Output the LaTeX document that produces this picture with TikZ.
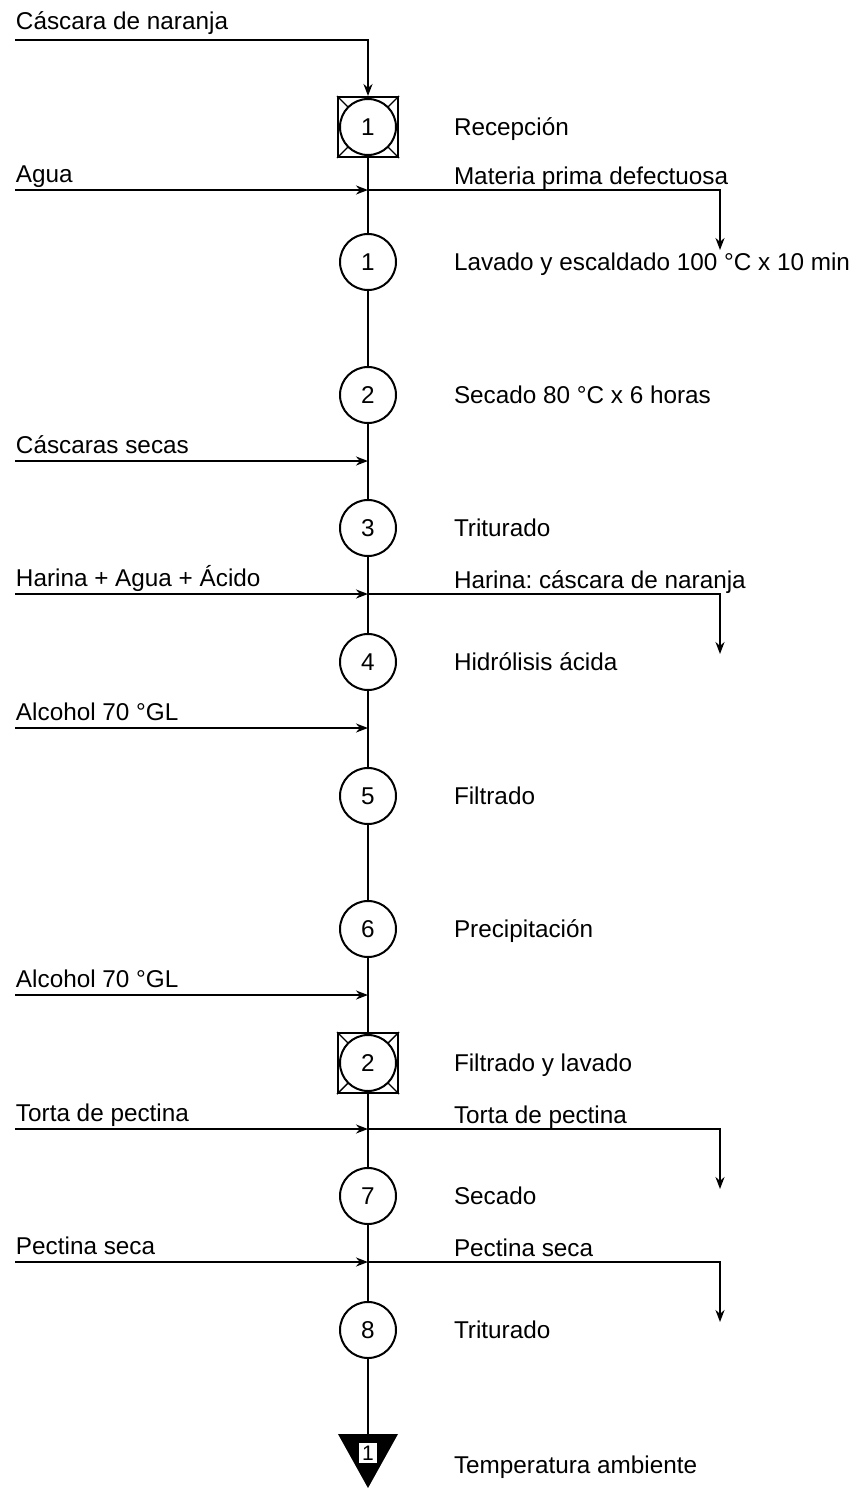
\documentclass[tikz,border=0pt]{standalone}
\usepackage{fontspec}
\setmainfont{Liberation Sans}
\usetikzlibrary{arrows.meta}
\frenchspacing
\begin{document}
\begin{tikzpicture}[x=1pt,y=-1pt, line width=2pt,
 every node/.style={font=\fontsize{24.3}{28}\selectfont, inner sep=0pt},
 proc/.style={circle, draw, fill=white, minimum size=56pt},
 insp/.style={draw, minimum size=60pt},
 lab/.style={anchor=base west},
 tip/.style={-{Stealth[length=12pt,width=9pt]}}]
\useasboundingbox (0,0) rectangle (860,1488);

% operations
\node[insp] (b1box) at (368,127) {};
\draw[line width=1.4pt] (b1box.north west) -- (b1box.south east) (b1box.north east) -- (b1box.south west);
\node[proc] (b1) at (368,127) {1};
\node[proc] (c1) at (368,262) {1};
\node[proc] (c2) at (368,395) {2};
\node[proc] (c3) at (368,528) {3};
\node[proc] (c4) at (368,662) {4};
\node[proc] (c5) at (368,796) {5};
\node[proc] (c6) at (368,929) {6};
\node[insp] (b2box) at (368,1063) {};
\draw[line width=1.4pt] (b2box.north west) -- (b2box.south east) (b2box.north east) -- (b2box.south west);
\node[proc] (b2) at (368,1063) {2};
\node[proc] (c7) at (368,1196) {7};
\node[proc] (c8) at (368,1330) {8};
\fill (338,1434) -- (398,1434) -- (368,1488) -- cycle;
\coordinate (ttop) at (368,1434);
\node[fill=white, inner xsep=3pt, inner ysep=3pt, font=\fontsize{21}{23}\selectfont] (t1) at (368,1453) {1};

% right labels
\node[lab] (l1) at (453,135) {Recepción};
\node[lab] (l2) at (453,270) {Lavado y escaldado 100 °C x 10 min};
\node[lab] (l3) at (453,403) {Secado 80 °C x 6 horas};
\node[lab] (l4) at (453,536) {Triturado};
\node[lab] (l5) at (453,670) {Hidrólisis ácida};
\node[lab] (l6) at (453,804) {Filtrado};
\node[lab] (l7) at (453,937) {Precipitación};
\node[lab] (l8) at (453,1071) {Filtrado y lavado};
\node[lab] (l9) at (453,1204) {Secado};
\node[lab] (l10) at (453,1338) {Triturado};
\node[lab] (l11) at (453,1473) {Temperatura ambiente};

% main line
\draw (b1box.south) -- (c1.north);
\draw (c1) -- (c2);
\draw (c2) -- (c3);
\draw (c3) -- (c4);
\draw (c4) -- (c5);
\draw (c5) -- (c6);
\draw (c6) -- (b2box.north);
\draw (b2box.south) -- (c7.north);
\draw (c7) -- (c8);
\draw (c8) -- (ttop);

% top input
\node[lab] (in0) at (15,30) {Cáscara de naranja};
\coordinate (s0) at (15,40);
\draw[tip] (s0) -| (b1box.north);

% input lines
\foreach \y/\t/\n in {190/Agua/a, 461/Cáscaras secas/b, 594/Harina + Agua + Ácido/c, 728/Alcohol 70 °GL/d, 995/Alcohol 70 °GL/e, 1129/Torta de pectina/f, 1262/Pectina seca/g}{
  \node[lab] (in\n) at (15,\y-8) {\t};
  \coordinate (s\n) at (15,\y);
  \coordinate (j\n) at (368,\y);
  \draw[tip] (s\n) -- (j\n);
}

% output lines
\foreach \y/\t/\n in {190/Materia prima defectuosa/a, 594/Harina: cáscara de naranja/c, 1129/Torta de pectina/f, 1262/Pectina seca/g}{
  \node[lab] (out\n) at (453,\y-6) {\t};
  \coordinate (e\n) at (720,\y+60);
  \draw[tip] (j\n) -| (e\n);
}
\end{tikzpicture}
\end{document}
